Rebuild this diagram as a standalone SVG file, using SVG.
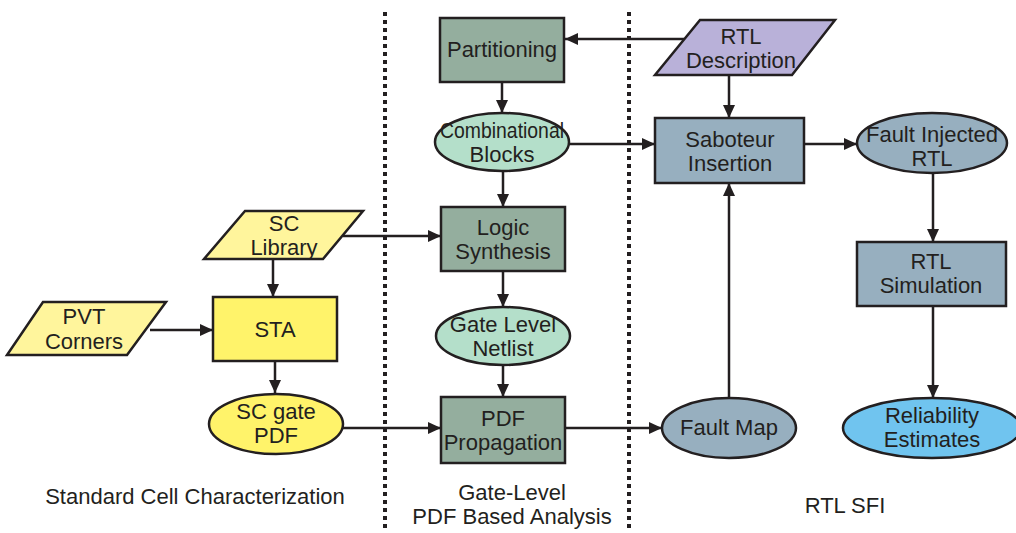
<svg xmlns="http://www.w3.org/2000/svg" width="1016" height="533" viewBox="0 0 1016 533">
  <style>
    .node { stroke: #231f20; stroke-width: 2.5; }
    .green { fill: #94ae9e; }
    .mint { fill: #b4dfca; }
    .yellow { fill: #fff36a; }
    .paleyellow { fill: #fff59c; }
    .purple { fill: #b9b1d9; }
    .steel { fill: #97afbf; }
    .sky { fill: #70c4ef; }
    .lbl { font-family: "Liberation Sans", Arial, sans-serif; font-size: 22px; fill: #231f20; text-anchor: middle; }
    .edge { stroke: #231f20; stroke-width: 2.5; fill: none; }
    .arrow { marker-end: url(#head); }
    .divider { stroke: #231f20; stroke-width: 4; stroke-dasharray: 4 4; fill: none; }
  </style>
  <defs>
    <marker id="head" markerUnits="userSpaceOnUse" markerWidth="13" markerHeight="12" refX="13" refY="6" orient="auto">
      <path d="M0,0 L13,6 L0,12 z" fill="#231f20"/>
    </marker>
  </defs>

  <rect width="1016" height="533" fill="#ffffff"/>

  <!-- column dividers -->
  <g id="dividers">
    <line class="divider" x1="385" y1="12" x2="385" y2="530"/>
    <line class="divider" x1="629" y1="12" x2="629" y2="530"/>
  </g>

  <!-- connectors -->
  <g id="connectors">
    <line class="edge arrow" x1="684" y1="39" x2="565" y2="39"/>
    <line class="edge arrow" x1="502" y1="82" x2="502" y2="113"/>
    <line class="edge arrow" x1="503" y1="171" x2="503" y2="207"/>
    <line class="edge arrow" x1="569" y1="144" x2="655" y2="144"/>
    <line class="edge arrow" x1="343" y1="236" x2="441" y2="236"/>
    <line class="edge arrow" x1="273" y1="259" x2="273" y2="297"/>
    <line class="edge arrow" x1="150" y1="330" x2="213" y2="330"/>
    <line class="edge arrow" x1="275" y1="361" x2="275" y2="393"/>
    <line class="edge arrow" x1="343" y1="428" x2="441" y2="428"/>
    <line class="edge arrow" x1="503" y1="271" x2="503" y2="307"/>
    <line class="edge arrow" x1="503" y1="365" x2="503" y2="397"/>
    <line class="edge arrow" x1="565" y1="428" x2="662" y2="428"/>
    <line class="edge arrow" x1="729" y1="398" x2="729" y2="183"/>
    <line class="edge arrow" x1="729" y1="75" x2="729" y2="118"/>
    <line class="edge arrow" x1="804" y1="144" x2="857" y2="144"/>
    <line class="edge arrow" x1="933" y1="173" x2="933" y2="242"/>
    <line class="edge arrow" x1="933" y1="306" x2="933" y2="398"/>
  </g>

  <!-- standard cell characterization -->
  <g id="sc-library">
    <polygon class="node paleyellow" points="245,211 363,211 323,259 204,259"/>
    <text class="lbl" x="284" y="231">SC</text>
    <text class="lbl" x="284" y="255">Library</text>
  </g>
  <g id="pvt-corners">
    <polygon class="node paleyellow" points="43,302 166,302 127,355 7,355"/>
    <text class="lbl" x="84" y="324">PVT</text>
    <text class="lbl" x="84" y="349">Corners</text>
  </g>
  <g id="sta">
    <rect class="node yellow" x="213" y="297" width="124" height="64"/>
    <text class="lbl" x="275" y="337">STA</text>
  </g>
  <g id="sc-gate-pdf">
    <ellipse class="node yellow" cx="276" cy="424" rx="67" ry="30"/>
    <text class="lbl" x="276" y="419">SC gate</text>
    <text class="lbl" x="276" y="443">PDF</text>
  </g>

  <!-- gate-level analysis -->
  <g id="partitioning">
    <rect class="node green" x="440" y="18" width="124" height="64"/>
    <text class="lbl" x="502" y="57">Partitioning</text>
  </g>
  <g id="combinational-blocks">
    <ellipse class="node mint" cx="502" cy="142" rx="67" ry="29"/>
    <text class="lbl" x="502" y="138" textLength="124" lengthAdjust="spacingAndGlyphs">Combinational</text>
    <text class="lbl" x="502" y="162">Blocks</text>
  </g>
  <g id="logic-synthesis">
    <rect class="node green" x="441" y="207" width="124" height="64"/>
    <text class="lbl" x="503" y="235">Logic</text>
    <text class="lbl" x="503" y="259">Synthesis</text>
  </g>
  <g id="gate-level-netlist">
    <ellipse class="node mint" cx="503" cy="336" rx="67" ry="29"/>
    <text class="lbl" x="503" y="332">Gate Level</text>
    <text class="lbl" x="503" y="356">Netlist</text>
  </g>
  <g id="pdf-propagation">
    <rect class="node green" x="441" y="397" width="124" height="66"/>
    <text class="lbl" x="503" y="426">PDF</text>
    <text class="lbl" x="503" y="450">Propagation</text>
  </g>

  <!-- RTL fault injection -->
  <g id="rtl-description">
    <polygon class="node purple" points="700,20 835,20 792,75 655,75"/>
    <text class="lbl" x="741" y="44">RTL</text>
    <text class="lbl" x="741" y="68">Description</text>
  </g>
  <g id="saboteur-insertion">
    <rect class="node steel" x="655" y="118" width="149" height="65"/>
    <text class="lbl" x="730" y="147">Saboteur</text>
    <text class="lbl" x="730" y="171">Insertion</text>
  </g>
  <g id="fault-injected-rtl">
    <ellipse class="node steel" cx="932" cy="143" rx="75" ry="30"/>
    <text class="lbl" x="932" y="142">Fault Injected</text>
    <text class="lbl" x="932" y="166">RTL</text>
  </g>
  <g id="rtl-simulation">
    <rect class="node steel" x="857" y="242" width="149" height="64"/>
    <text class="lbl" x="931" y="269">RTL</text>
    <text class="lbl" x="931" y="293">Simulation</text>
  </g>
  <g id="fault-map">
    <ellipse class="node steel" cx="729" cy="428" rx="67" ry="30"/>
    <text class="lbl" x="729" y="435">Fault Map</text>
  </g>
  <g id="reliability-estimates">
    <ellipse class="node sky" cx="932" cy="428" rx="89" ry="30"/>
    <text class="lbl" x="932" y="423">Reliability</text>
    <text class="lbl" x="932" y="447">Estimates</text>
  </g>

  <!-- section captions -->
  <g id="captions">
    <text class="lbl" x="195" y="504">Standard Cell Characterization</text>
    <text class="lbl" x="512" y="500">Gate-Level</text>
    <text class="lbl" x="512" y="524">PDF Based Analysis</text>
    <text class="lbl" x="845" y="513">RTL SFI</text>
  </g>
</svg>
